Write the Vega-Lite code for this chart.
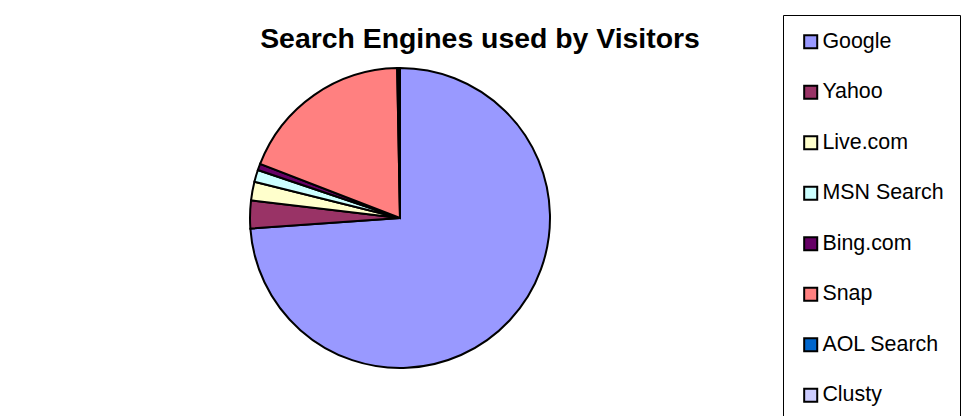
{
  "$schema": "https://vega.github.io/schema/vega-lite/v6.json",
  "width": 800,
  "height": 396,
  "autosize": {"type": "none"},
  "padding": {"left": 0, "top": 20, "right": 177, "bottom": 0},
  "background": "white",
  "config": {"view": {"stroke": null}, "font": "Liberation Sans"},
  "title": {
    "text": "Search Engines used by Visitors",
    "font": "Liberation Sans",
    "fontSize": 28.4,
    "fontWeight": "bold",
    "color": "black",
    "anchor": "middle",
    "baseline": "alphabetic",
    "offset": -35,
    "dx": 80,
    "dy": 27
  },
  "data": {
    "values": [
      {"engine": "Google", "share": 73.8},
      {"engine": "Yahoo", "share": 3.0},
      {"engine": "Live.com", "share": 2.0},
      {"engine": "MSN Search", "share": 1.3},
      {"engine": "Bing.com", "share": 0.7},
      {"engine": "Snap", "share": 18.8},
      {"engine": "AOL Search", "share": 0.2},
      {"engine": "Clusty", "share": 0.1}
    ]
  },
  "transform": [
    {"window": [{"op": "row_number", "as": "idx"}]}
  ],
  "mark": {"type": "arc", "outerRadius": 150, "stroke": "black", "strokeWidth": 2},
  "encoding": {
    "theta": {"field": "share", "type": "quantitative", "stack": true},
    "order": {"field": "idx", "type": "quantitative", "sort": "ascending"},
    "color": {
      "field": "engine",
      "type": "nominal",
      "sort": ["Google", "Yahoo", "Live.com", "MSN Search", "Bing.com", "Snap", "AOL Search", "Clusty"],
      "scale": {
        "domain": ["Google", "Yahoo", "Live.com", "MSN Search", "Bing.com", "Snap", "AOL Search", "Clusty"],
        "range": ["#9999FF", "#993366", "#FFFFCC", "#CCFFFF", "#660066", "#FF8080", "#0066CC", "#CCCCFF"]
      },
      "legend": {
        "title": null,
        "orient": "none",
        "legendX": 783,
        "legendY": -5,
        "padding": 16,
        "symbolOffset": 1,
        "strokeColor": "black",
        "fillColor": "white",
        "symbolType": "square",
        "symbolSize": 170,
        "symbolStrokeColor": "black",
        "symbolStrokeWidth": 2,
        "symbolOpacity": 1,
        "labelFont": "Liberation Sans",
        "labelFontSize": 21.4,
        "labelColor": "black",
        "labelOffset": 1,
        "rowPadding": 27.5,
        "labelLimit": 300
      }
    }
  }
}
